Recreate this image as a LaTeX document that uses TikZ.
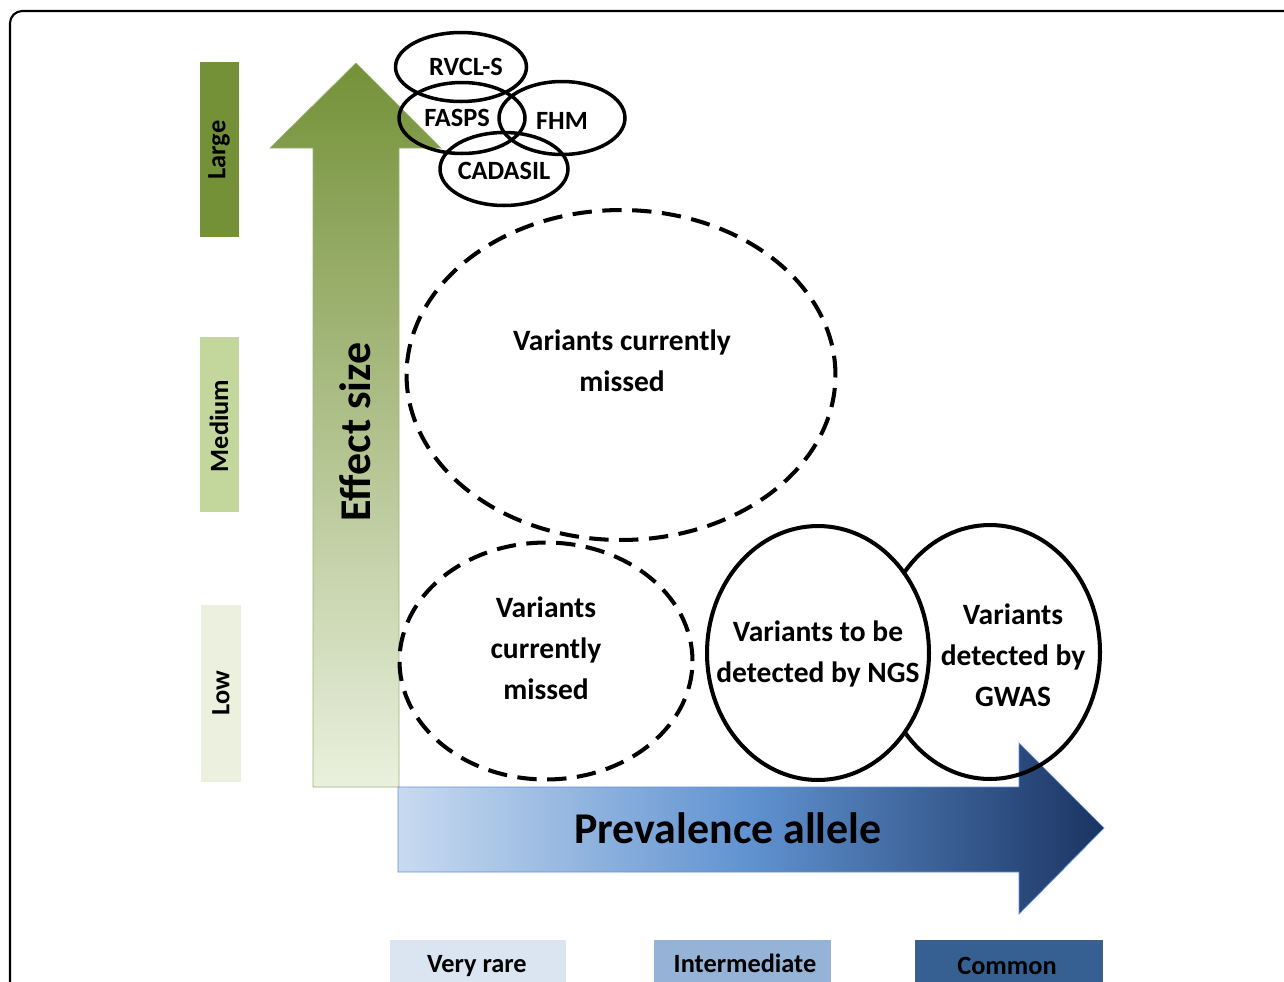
\documentclass[tikz,border=0pt]{standalone}
\usepackage{fontspec}
\setmainfont{Carlito}
\usepackage{xcolor}
\definecolor{dark_green}{RGB}{116,145,56}
\definecolor{mid_green}{RGB}{195,214,155}
\definecolor{pale_green}{RGB}{235,241,222}
\definecolor{fade_green}{RGB}{234,240,222}
\definecolor{pale_blue}{RGB}{200,218,240}
\definecolor{light_blue}{RGB}{149,179,215}
\definecolor{medium_blue}{RGB}{96,146,208}
\definecolor{thick_blue}{RGB}{26,52,98}
\definecolor{box_blue}{RGB}{54,96,146}
\definecolor{very_light_blue}{RGB}{219,229,241}
\usetikzlibrary{shapes.geometric}

\begin{document}
\begin{tikzpicture}[x=0.02cm, y=-0.02cm,
  bartext/.style={font=\bfseries\fontsize{15}{18}\selectfont, rotate=90},
  oval/.style={ellipse, draw, line width=2pt, inner sep=0pt},
  bigoval/.style={ellipse, draw, line width=2.3pt, inner sep=0pt},
  missoval/.style={bigoval, dashed, dash pattern=on 11pt off 6pt},
  disease/.style={font=\bfseries\fontsize{15}{18}\selectfont},
  variant/.style={font=\bfseries\fontsize{16.8}{23.2}\selectfont, align=center},
  classbox/.style={font=\bfseries\fontsize{15}{18}\selectfont}]

\clip (0,0) rectangle (1284,981);
% frame
\draw [line width=1.2pt, rounded corners=7pt] (10,11) rectangle (1320,1020);

% effect size bars
\fill [dark_green] (200,62) rectangle (239,237);
\fill [mid_green] (200,337) rectangle (239,512);
\fill [pale_green] (201,605) rectangle (241,782);
\node [bartext] (large) at (219,150) {Large};
\node [bartext] (medium) at (219,426) {Medium};
\node [bartext] (low) at (221,693) {Low};

% arrows
\shade [top color=dark_green, bottom color=fade_green, draw=dark_green!70, line width=0.4pt]
  (313,787) -- (313,148) -- (270,148) -- (356,63) -- (441,148) -- (399,148) -- (399,787) -- cycle;
\node [font=\bfseries\fontsize{25}{28}\selectfont, rotate=90] (effect) at (355,432) {Effect size};

\shade [left color=pale_blue, right color=thick_blue, middle color=medium_blue, draw=medium_blue, line width=0.4pt]
  (398,787) -- (1019,787) -- (1019,743) -- (1104,828) -- (1019,914) -- (1019,872) -- (398,872) -- cycle;
\node [font=\bfseries\fontsize{25}{30}\selectfont] (prevalence) at (728,828) {Prevalence allele};

% diseases with large effect
\node [oval, minimum width=2.62cm, minimum height=1.38cm] (rvcl) at (461,67) {};
\node [oval, minimum width=2.52cm, minimum height=1.42cm] (fasps) at (462,118) {};
\node [oval, minimum width=2.52cm, minimum height=1.46cm] (fhm) at (562,118) {};
\node [oval, minimum width=2.56cm, minimum height=1.46cm] (cadasil) at (504,169) {};
\node [disease] at (rvcl.center) [xshift=0.1cm] {RVCL-S};
\node [disease] at (fasps.center) [xshift=-0.1cm] {FASPS};
\node [disease] at (fhm.center) [yshift=-0.06cm] {FHM};
\node [disease] at (cadasil.center) [yshift=-0.04cm] {CADASIL};

% variant groups
\node [missoval, minimum width=8.58cm, minimum height=6.6cm] (missbig) at (621,375) {};
\node [missoval, minimum width=5.86cm, minimum height=4.74cm] (misssmall) at (546,661) {};
\node [bigoval, minimum width=4.4cm, minimum height=5.08cm] (gwas) at (990,652) {};
\node [bigoval, fill=white, minimum width=4.44cm, minimum height=5.08cm] (ngs) at (818,653) {};

\node [variant] (missbigtext) at (622,361) {Variants currently\\missed};
\node [variant] (misssmalltext) at (546,648) {Variants\\currently\\missed};
\node [variant] (ngstext) at (818,654) {Variants to be\\detected by NGS};
\node [variant] (gwastext) at (1013,655) {Variants\\detected by\\GWAS};

% prevalence classes
\fill [very_light_blue] (390,940) rectangle (566,1000);
\fill [light_blue] (654,940) rectangle (831,1000);
\fill [box_blue, draw=thick_blue!80, line width=0.4pt] (915,940) rectangle (1102,1000);
\node [classbox] (veryrare) at (477,966) {Very rare};
\node [classbox] (intermediate) at (745,963) {Intermediate};
\node [classbox] (common) at (1007,966) {Common};

\end{tikzpicture}
\end{document}
